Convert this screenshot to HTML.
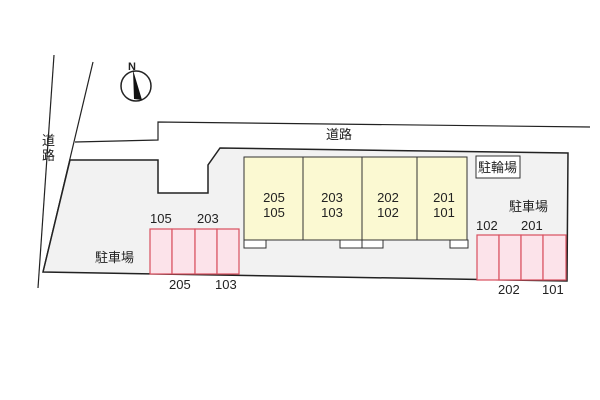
<!DOCTYPE html><html><head><style>body{margin:0;background:#fff}svg{display:block}text{font-family:"Liberation Sans","Noto Sans CJK JP",sans-serif;font-size:13px;fill:#222}</style></head><body>
<svg width="600" height="400" viewBox="0 0 600 400">
<polygon points="70,160 158,160 158,193 208,193 208,165 220,148 568,153 567,281 43,272" fill="#f2f2f2" stroke="#222" stroke-width="1.5"/>
<line x1="54" y1="55" x2="38" y2="288" stroke="#222" stroke-width="1.2"/>
<line x1="93" y1="62" x2="43" y2="272" stroke="#222" stroke-width="1.2"/>
<polyline points="75,142 158,140 158,122 590,127" fill="none" stroke="#222" stroke-width="1.2"/>
<text x="42" y="145">道</text><text x="42" y="160">路</text>
<text x="326" y="139">道路</text>
<circle cx="136" cy="86" r="15" fill="#fff" stroke="#222" stroke-width="1.5"/>
<polygon points="133,70 142,100 134,99" fill="#111"/>
<text x="128" y="70" style="font-size:11px;font-weight:bold">N</text>
<rect x="244" y="157" width="223" height="83" fill="#fbf9d2" stroke="#333"/>
<line x1="303" y1="157" x2="303" y2="240" stroke="#333"/><line x1="362" y1="157" x2="362" y2="240" stroke="#333"/><line x1="417" y1="157" x2="417" y2="240" stroke="#333"/>
<g fill="#fff" stroke="#333"><rect x="244" y="240" width="22" height="8"/><rect x="340" y="240" width="22" height="8"/><rect x="362" y="240" width="21" height="8"/><rect x="450" y="240" width="18" height="8"/></g>
<g text-anchor="middle"><text x="274" y="202">205</text><text x="274" y="217">105</text><text x="332" y="202">203</text><text x="332" y="217">103</text><text x="388" y="202">202</text><text x="388" y="217">102</text><text x="444" y="202">201</text><text x="444" y="217">101</text></g>
<rect x="476" y="156" width="44" height="22" fill="#fff" stroke="#333"/><text x="478" y="172">駐輪場</text>
<text x="509" y="211">駐車場</text><text x="95" y="262">駐車場</text>
<g fill="#fce3ea" stroke="#d9505f" stroke-width="1.2"><rect x="150" y="229" width="22" height="45"/><rect x="172" y="229" width="23" height="45"/><rect x="195" y="229" width="22" height="45"/><rect x="217" y="229" width="22" height="45"/>
<rect x="477" y="235" width="22" height="45"/><rect x="499" y="235" width="22" height="45"/><rect x="521" y="235" width="22" height="45"/><rect x="543" y="235" width="23" height="45"/></g>
<text x="150" y="223">105</text><text x="197" y="223">203</text><text x="169" y="289">205</text><text x="215" y="289">103</text>
<text x="476" y="230">102</text><text x="521" y="230">201</text><text x="498" y="294">202</text><text x="542" y="294">101</text>
</svg></body></html>
